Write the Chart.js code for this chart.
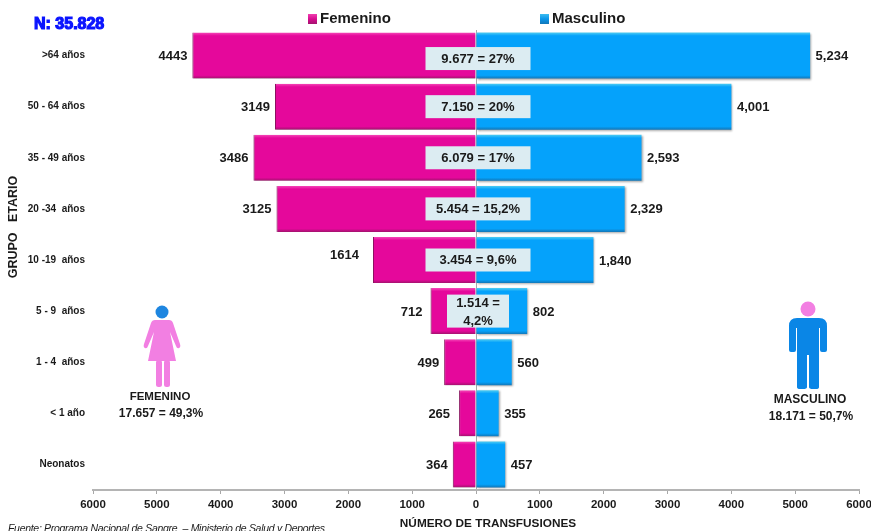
<!DOCTYPE html>
<html>
<head>
<meta charset="utf-8">
<style>
  html, body { margin: 0; padding: 0; background: #fff; }
  #wrap { position: relative; width: 871px; height: 531px; overflow: hidden; }
  #my-chart { position: absolute; left: 0; top: 0; }
  #figures { position: absolute; left: 0; top: 0; }
</style>
</head>
<body>
<div id="wrap">
  <canvas id="my-chart" width="871" height="531"></canvas>
  <svg id="figures" width="871" height="531">
    <circle cx="162" cy="312" r="6.5" fill="#1e86e0"/>
    <path d="M155 320 h14 q3 0 4 3 l7 21 q1 3 -1 4 q-2 1 -3 -2 l-6 -14 l6 29 h-28 l6 -29 l-6 14 q-1 3 -3 2 q-2 -1 -1 -4 l7 -21 q1 -3 4 -3z" fill="#f27fe2"/>
    <rect x="156" y="360" width="6" height="27" rx="2.5" fill="#f27fe2"/>
    <rect x="164" y="360" width="6" height="27" rx="2.5" fill="#f27fe2"/>
    <circle cx="808" cy="309" r="7.5" fill="#f27fe2"/>
    <path d="M797 318 h22 q8 0 8 8 v24 q0 2 -2 2 h-3 q-2 0 -2 -2 v-22 l-1 0 v59 q0 2 -3 2 h-3 q-4 0 -4 -2 v-32 h-2 v32 q0 2 -4 2 h-3 q-3 0 -3 -2 v-59 l-1 0 v22 q0 2 -2 2 h-3 q-2 0 -2 -2 v-24 q0 -8 8 -8z" fill="#0a86e6"/>
  </svg>
</div>
<script src="https://cdn.jsdelivr.net/npm/chart.js@4/dist/chart.umd.js"></script>
<script>
const ageGroups = ['>64 años', '50 - 64 años', '35 - 49 años', '20 -34  años', '10 -19  años', '5 - 9  años', '1 - 4  años', '< 1 año', 'Neonatos'];
const femenino = [4443, 3149, 3486, 3125, 1614, 712, 499, 265, 364];
const masculino = [5234, 4001, 2593, 2329, 1840, 802, 560, 355, 457];
const totals = ['9.677 = 27%', '7.150 = 20%', '6.079 = 17%', '5.454 = 15,2%', '3.454 = 9,6%', ['1.514 =', '4,2%'], null, null, null];
const xTicks = [6000, 5000, 4000, 3000, 2000, 1000, 0, 1000, 2000, 3000, 4000, 5000, 6000];

const FONT = '"Liberation Sans", Arial, sans-serif';
const INK = '#1a1a1a';

// bars have a light top edge and a dark bottom edge, like the old 3D excel style
function barGradient(colors) {
  return (ctx) => {
    const y = ctx.chart.scales.y;
    const mid = y && ctx.dataIndex !== undefined ? y.getPixelForValue(ctx.dataIndex) : NaN;
    if (!Number.isFinite(mid)) return colors[1];
    const h = 23;
    const g = ctx.chart.ctx.createLinearGradient(0, mid - h, 0, mid + h);
    g.addColorStop(0, colors[0]);
    g.addColorStop(0.07, colors[1]);
    g.addColorStop(0.93, colors[1]);
    g.addColorStop(1, colors[2]);
    return g;
  };
}

function text(c, str, x, y, font, align) {
  c.font = font;
  c.textAlign = align || 'center';
  c.textBaseline = 'middle';
  c.fillStyle = INK;
  c.fillText(str, x, y);
}

const shadowPlugin = {
  id: 'barShadow',
  beforeDatasetsDraw(chart) {
    const c = chart.ctx;
    c.save();
    c.shadowColor = 'rgba(60,60,60,0.45)';
    c.shadowBlur = 2;
    c.shadowOffsetX = 1;
    c.shadowOffsetY = 1;
  },
  afterDatasetsDraw(chart) {
    chart.ctx.restore();
  },
};

const labelsPlugin = {
  id: 'pyramidLabels',
  afterDraw(chart) {
    const c = chart.ctx;
    const x = chart.scales.x;
    const y = chart.scales.y;
    const zero = x.getPixelForValue(0);
    c.save();

    // value labels next to the bars, a few sit further off in the original
    const extraGap = { 4: 9, 5: 3, 7: 4 };
    femenino.forEach((v, i) => {
      const dy = i === 4 ? -5 : 1;
      text(c, String(v), x.getPixelForValue(-v) - 5 - (extraGap[i] || 0), y.getPixelForValue(i) + dy, 'bold 13px ' + FONT, 'right');
    });
    masculino.forEach((v, i) => {
      text(c, v >= 1000 ? v.toLocaleString('en-US') : String(v), x.getPixelForValue(v) + 5.5, y.getPixelForValue(i) + 1, 'bold 13px ' + FONT, 'left');
    });

    // totals per age group, on the pale boxes
    const cx = zero + 2;
    totals.forEach((t, i) => {
      if (!t) return;
      const mid = y.getPixelForValue(i);
      c.fillStyle = '#dcecf2';
      if (Array.isArray(t)) {
        c.fillRect(cx - 31, mid - 16.5, 62, 33);
        text(c, t[0], cx, mid - 8, 'bold 13px ' + FONT);
        text(c, t[1], cx, mid + 10, 'bold 13px ' + FONT);
      } else {
        const top = i === 0 ? mid - 8.5 : mid - 11.5;
        c.fillRect(cx - 52.5, top, 105, 23);
        text(c, t, cx, top + 12, 'bold 13px ' + FONT);
      }
    });

    // legend
    const legend = [[308, 320], [540, 552]];
    chart.data.datasets.forEach((ds, i) => {
      const g = c.createLinearGradient(0, 14, 0, 24);
      g.addColorStop(0, ds.swatch[0]);
      g.addColorStop(0.5, ds.swatch[1]);
      g.addColorStop(1, ds.swatch[2]);
      c.fillStyle = g;
      c.fillRect(legend[i][0], 14, 9, 10);
      text(c, ds.label, legend[i][1], 19, 'bold 15px ' + FONT, 'left');
    });

    // free text around the chart
    c.font = 'bold 16px ' + FONT;
    c.textAlign = 'left';
    c.textBaseline = 'middle';
    c.fillStyle = '#0a14ff';
    c.strokeStyle = '#0a14ff';
    c.lineWidth = 1.2;
    c.strokeText('N: 35.828', 34, 25);
    c.fillText('N: 35.828', 34, 25);

    text(c, 'FEMENINO', 160, 397, 'bold 11.5px ' + FONT);
    text(c, '17.657 = 49,3%', 161, 414, 'bold 12px ' + FONT);
    text(c, 'MASCULINO', 810, 400, 'bold 12px ' + FONT);
    text(c, '18.171 = 50,7%', 811, 417, 'bold 12px ' + FONT);
    text(c, 'NÚMERO DE TRANSFUSIONES', 488, 524, 'bold 11.8px ' + FONT);
    c.letterSpacing = '-0.3px';
    text(c, 'Fuente: Programa Nacional de Sangre  – Ministerio de Salud y Deportes', 8, 529, 'italic 10.5px ' + FONT, 'left');
    c.letterSpacing = '0px';

    c.translate(14, 227);
    c.rotate(-Math.PI / 2);
    text(c, 'GRUPO   ETARIO', 0, 0, 'bold 12.5px ' + FONT);
    c.restore();
  },
};

new Chart(document.getElementById('my-chart').getContext('2d'), {
  type: 'bar',
  data: {
    labels: ageGroups,
    datasets: [
      {
        label: 'Femenino',
        data: femenino.map((v) => -v),
        backgroundColor: barGradient(['#f648b8', '#e5089b', '#a3126e']),
        borderColor: '#8c1160',
        borderWidth: { left: 1 },
        borderSkipped: false,
        swatch: ['#f040b0', '#d80c90', '#a3126e'],
      },
      {
        label: 'Masculino',
        data: masculino,
        backgroundColor: barGradient(['#4fcdf2', '#05a2fb', '#1277b8']),
        swatch: ['#3cbcf0', '#0a96ea', '#1277b8'],
      },
    ],
  },
  plugins: [shadowPlugin, labelsPlugin],
  options: {
    indexAxis: 'y',
    responsive: false,
    animation: false,
    layout: { padding: { top: 30, right: 12, left: 0, bottom: 0 } },
    datasets: { bar: { categoryPercentage: 1, barPercentage: 0.9 } },
    plugins: {
      legend: { display: false },
      tooltip: { enabled: false },
    },
    scales: {
      x: {
        stacked: true,
        min: -6000,
        max: 6000,
        afterBuildTicks: (s) => { s.ticks = xTicks.map((v, i) => ({ value: i < 6 ? -v : v })); },
        afterFit: (s) => { s.height = 41; s.paddingLeft = 0; s.paddingRight = 0; },
        border: { color: '#b4b4b4', width: 2 },
        grid: {
          color: (ctx) => (ctx.tick && ctx.tick.value === 0 ? '#a8a8a8' : 'transparent'),
          tickColor: '#a8a8a8',
          tickLength: 4,
          lineWidth: 1,
        },
        ticks: {
          callback: (v) => String(Math.abs(v)),
          color: INK,
          padding: 4,
          maxRotation: 0,
          autoSkip: false,
          font: { family: FONT, size: 11.5, weight: 'bold' },
        },
      },
      y: {
        stacked: true,
        afterFit: (s) => { s.width = 93; },
        border: { display: false },
        grid: { display: false },
        ticks: {
          color: INK,
          padding: 0,
          font: { family: FONT, size: 10, weight: 'bold' },
        },
      },
    },
  },
});
</script>
</body>
</html>
